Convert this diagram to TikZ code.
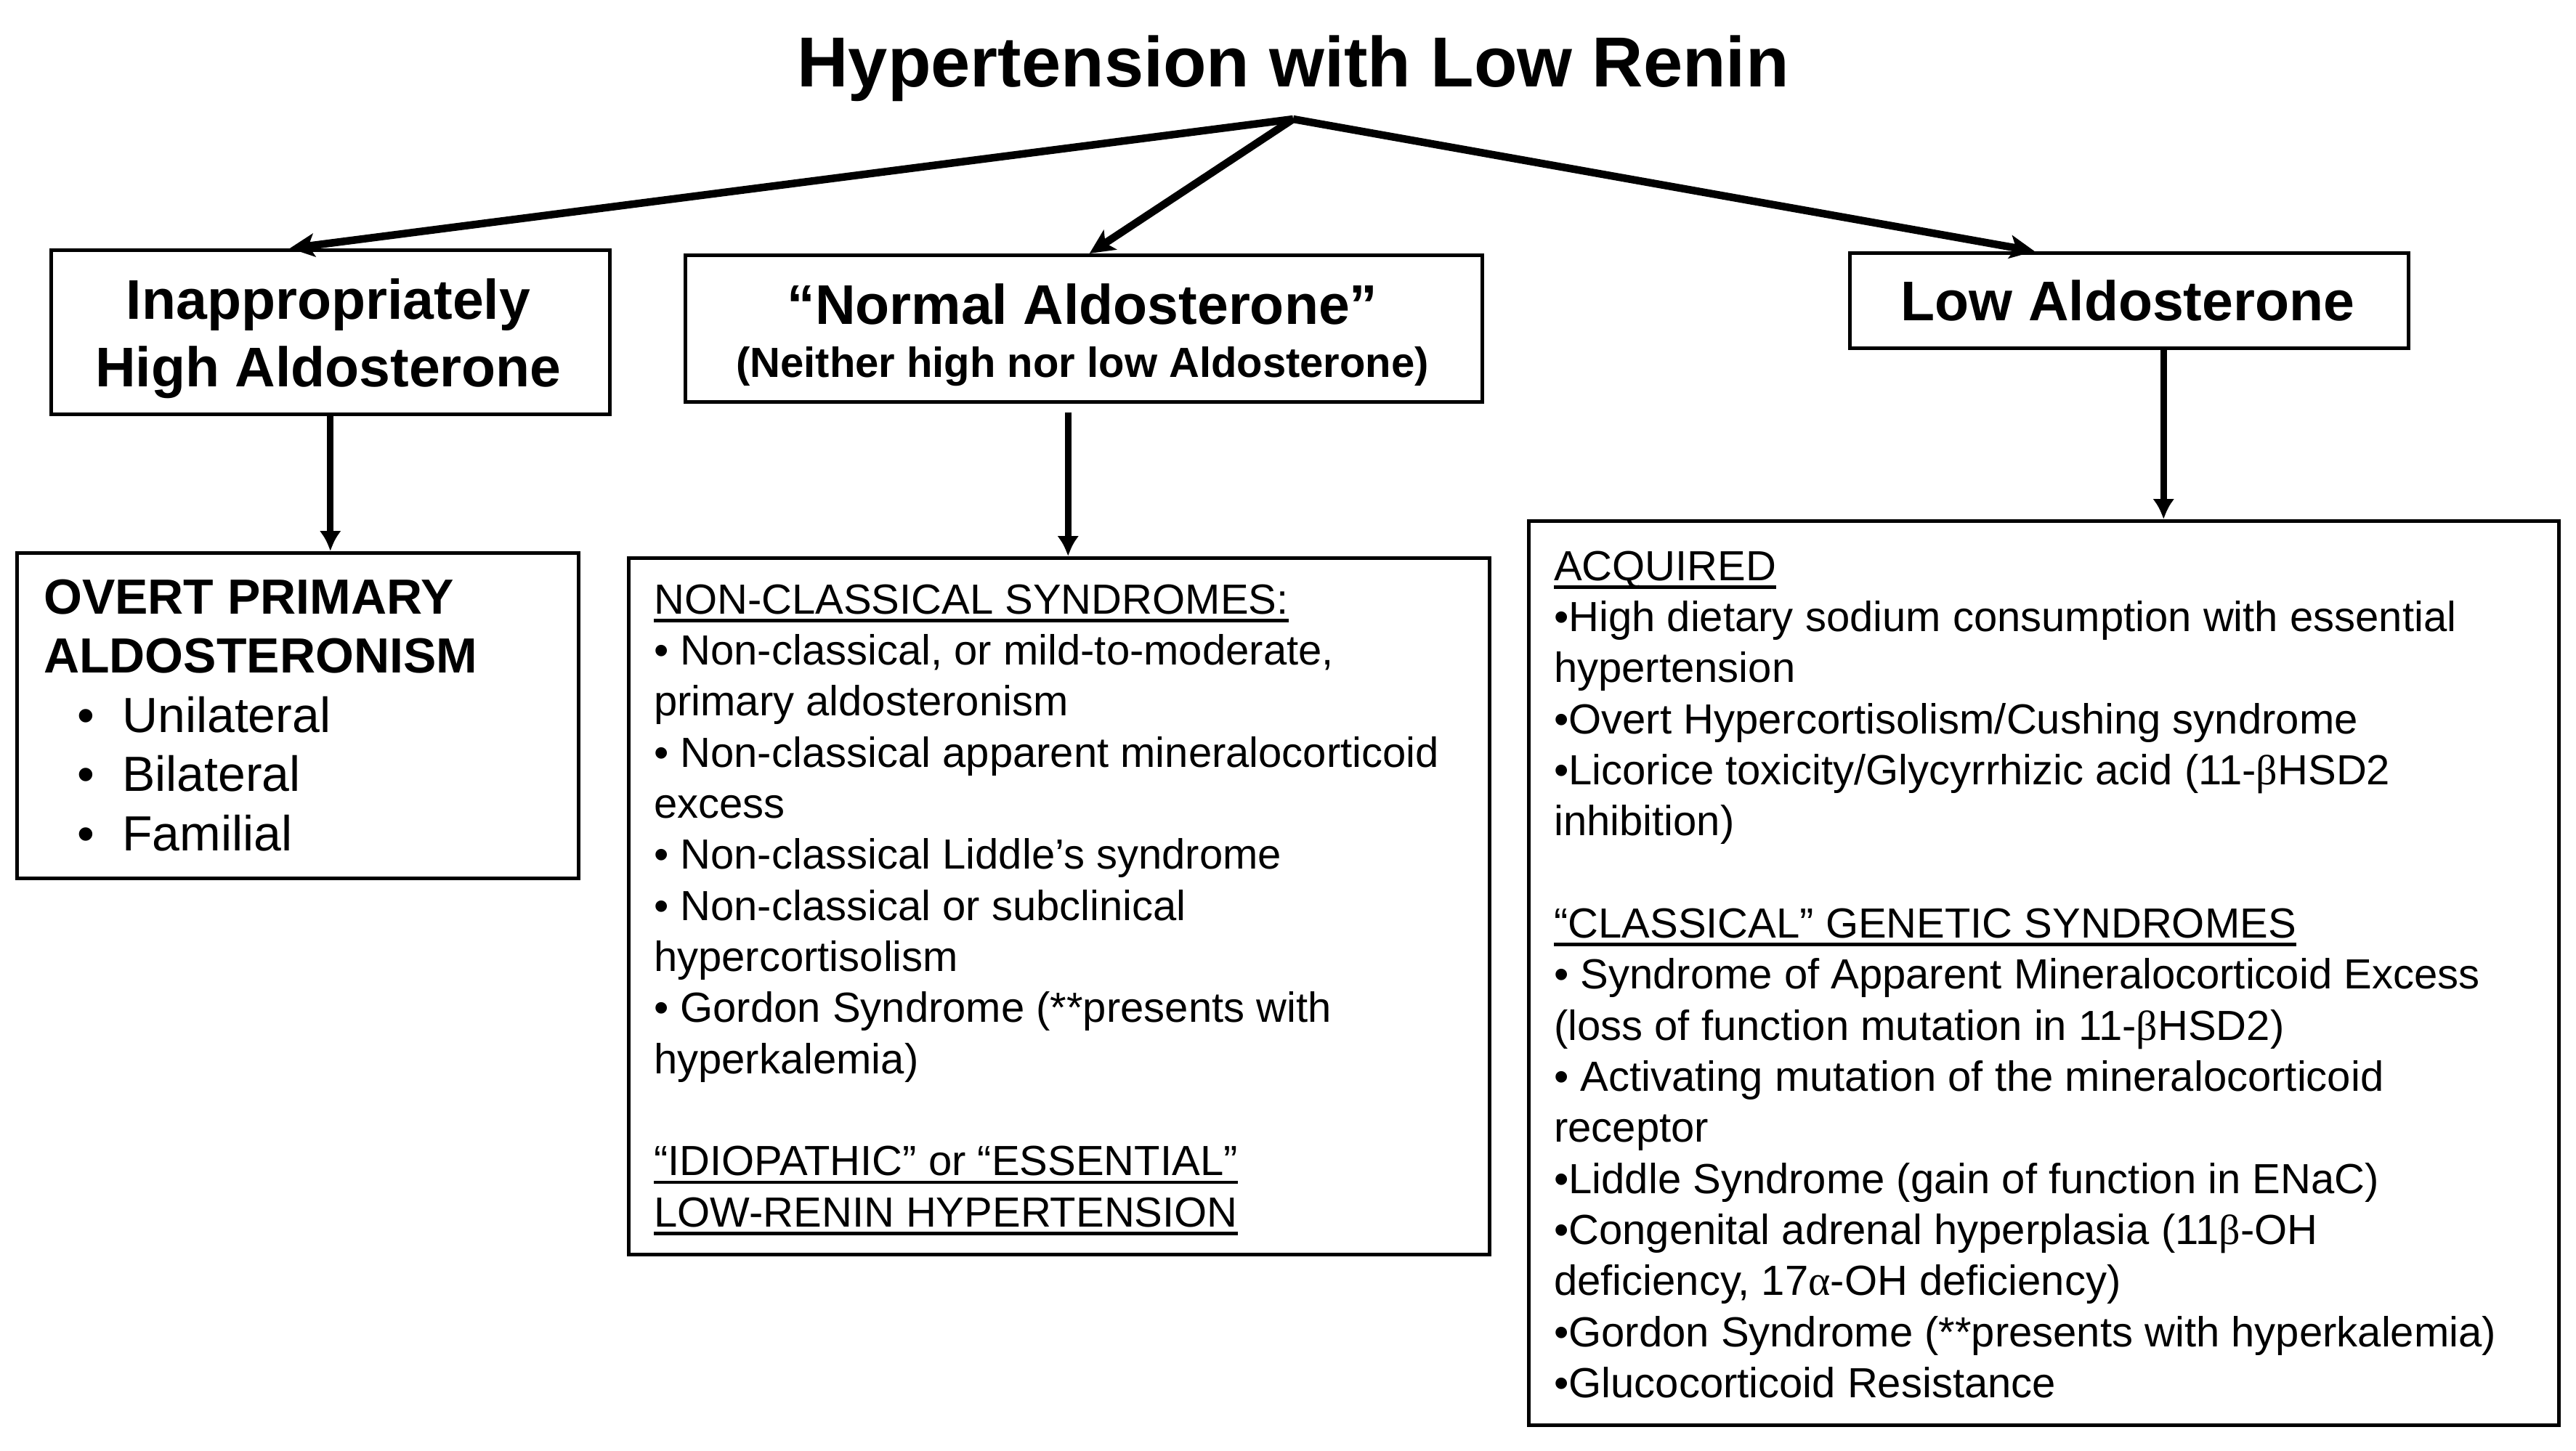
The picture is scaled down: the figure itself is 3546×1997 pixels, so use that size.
\documentclass[tikz,border=0pt]{standalone}
\usepackage{fontspec}
\setmainfont{Liberation Sans}
\newfontfamily\grk{Liberation Serif}
\usetikzlibrary{arrows.meta}
\newcommand\leftlines[1]{\vtop{\halign{##\hfil\cr#1\crcr}}}
\newcommand\centerlines[1]{\vtop{\halign{\hfil##\hfil\cr#1\crcr}}}
\newcommand\ul[1]{\vtop{\setbox0\hbox{#1}\dp0=0pt \box0 \kern7pt\hrule height 4.5pt}}
\newcommand\bul{\makebox[108pt][l]{\hspace*{46pt}•}}
\newcommand\gb{{\grk β}}
\newcommand\ga{{\grk α}}
\begin{document}
\begin{tikzpicture}[x=1pt,y=-1pt,
  box/.style={draw=black, line width=4.5pt, rectangle, inner sep=0pt, anchor=north west},
  arr/.style={line width=9pt, -{Latex[length=28pt,width=30pt]}},
  darr/.style={line width=10.5pt, line join=round, -{Stealth[length=34pt,width=32pt,inset=8pt]}},
  txt/.style={inner sep=0pt},
  headfont/.style={font=\fontsize{77}{93}\selectfont\bfseries},
  bodyfont/.style={font=\fontsize{58}{70.35}\selectfont}]
\path[use as bounding box, fill=white] (0,0) rectangle (3546,1997);

\node[txt, anchor=base, font=\fontsize{97.5}{117}\selectfont\bfseries] (title) at (1780,119) {Hypertension with Low Renin};
\coordinate (apex) at (1780,164);

% level 1 boxes
\node[box, minimum width=769pt, minimum height=226pt] (hi) at (68,342) {};
\node[txt, anchor=base, headfont] (hit) at (452,439) {\centerlines{Inappropriately\cr High Aldosterone}};

\node[box, minimum width=1097pt, minimum height=202pt] (nm) at (941,349) {};
\node[txt, anchor=base, headfont] (nmt) at (1490,446) {“Normal Aldosterone”};
\node[txt, anchor=base, font=\fontsize{58}{70}\selectfont\bfseries] (nms) at (1490,519) {(Neither high nor low Aldosterone)};

\node[box, minimum width=769pt, minimum height=131pt] (lo) at (2544,346) {};
\node[txt, anchor=base, headfont] (lot) at (2929,441) {Low Aldosterone};

% level 2 boxes
\node[box, minimum width=773pt, minimum height=448pt] (ov) at (21,759) {};
\node[txt, anchor=base west, font=\fontsize{68}{81.5}\selectfont] (ovt) at (60,845) {\leftlines{%
{\bfseries OVERT PRIMARY}\cr
{\bfseries ALDOSTERONISM}\cr
\bul Unilateral\cr
\bul Bilateral\cr
\bul Familial}};

\node[box, minimum width=1185pt, minimum height=959pt] (nc) at (863,766) {};
\node[txt, anchor=base west, bodyfont] (nct) at (900,845) {\leftlines{%
\ul{NON-CLASSICAL SYNDROMES:}\cr
• Non-classical, or mild-to-moderate,\cr
primary aldosteronism\cr
• Non-classical apparent mineralocorticoid\cr
excess\cr
• Non-classical Liddle’s syndrome\cr
• Non-classical or subclinical\cr
hypercortisolism\cr
• Gordon Syndrome (**presents with\cr
hyperkalemia)\cr
\cr
\ul{“IDIOPATHIC” or “ESSENTIAL”}\cr
\ul{LOW-RENIN HYPERTENSION}}};

\node[box, minimum width=1418pt, minimum height=1245pt] (ac) at (2102,715) {};
\node[txt, anchor=base west, bodyfont] (act) at (2139,799) {\leftlines{%
\ul{ACQUIRED}\cr
•High dietary sodium consumption with essential\cr
hypertension\cr
•Overt Hypercortisolism/Cushing syndrome\cr
•Licorice toxicity/Glycyrrhizic acid (11-\gb HSD2\cr
inhibition)\cr
\cr
\ul{“CLASSICAL” GENETIC SYNDROMES}\cr
• Syndrome of Apparent Mineralocorticoid Excess\cr
(loss of function mutation in 11-\gb HSD2)\cr
• Activating mutation of the mineralocorticoid\cr
receptor\cr
•Liddle Syndrome (gain of function in ENaC)\cr
•Congenital adrenal hyperplasia (11\gb-OH\cr
deficiency, 17\ga-OH deficiency)\cr
•Gordon Syndrome (**presents with hyperkalemia)\cr
•Glucocorticoid Resistance}};

% connectors
\draw[darr] (apex) -- ([xshift=-56pt]hi.north);
\draw[darr] (apex) -- ([xshift=8pt]nm.north);
\draw[darr] (apex) -- ([xshift=-130pt]lo.north);
\draw[arr] (hi.south) -- (hi.south |- ov.north);
\coordinate (nmd) at ([xshift=-21.5pt,yshift=-12pt]nm.south);
\draw[arr] (nmd) -- (nmd |- nc.north);
\coordinate (lod) at ([xshift=47.5pt]lo.south);
\draw[arr] (lod) -- (lod |- ac.north);
\end{tikzpicture}
\end{document}
